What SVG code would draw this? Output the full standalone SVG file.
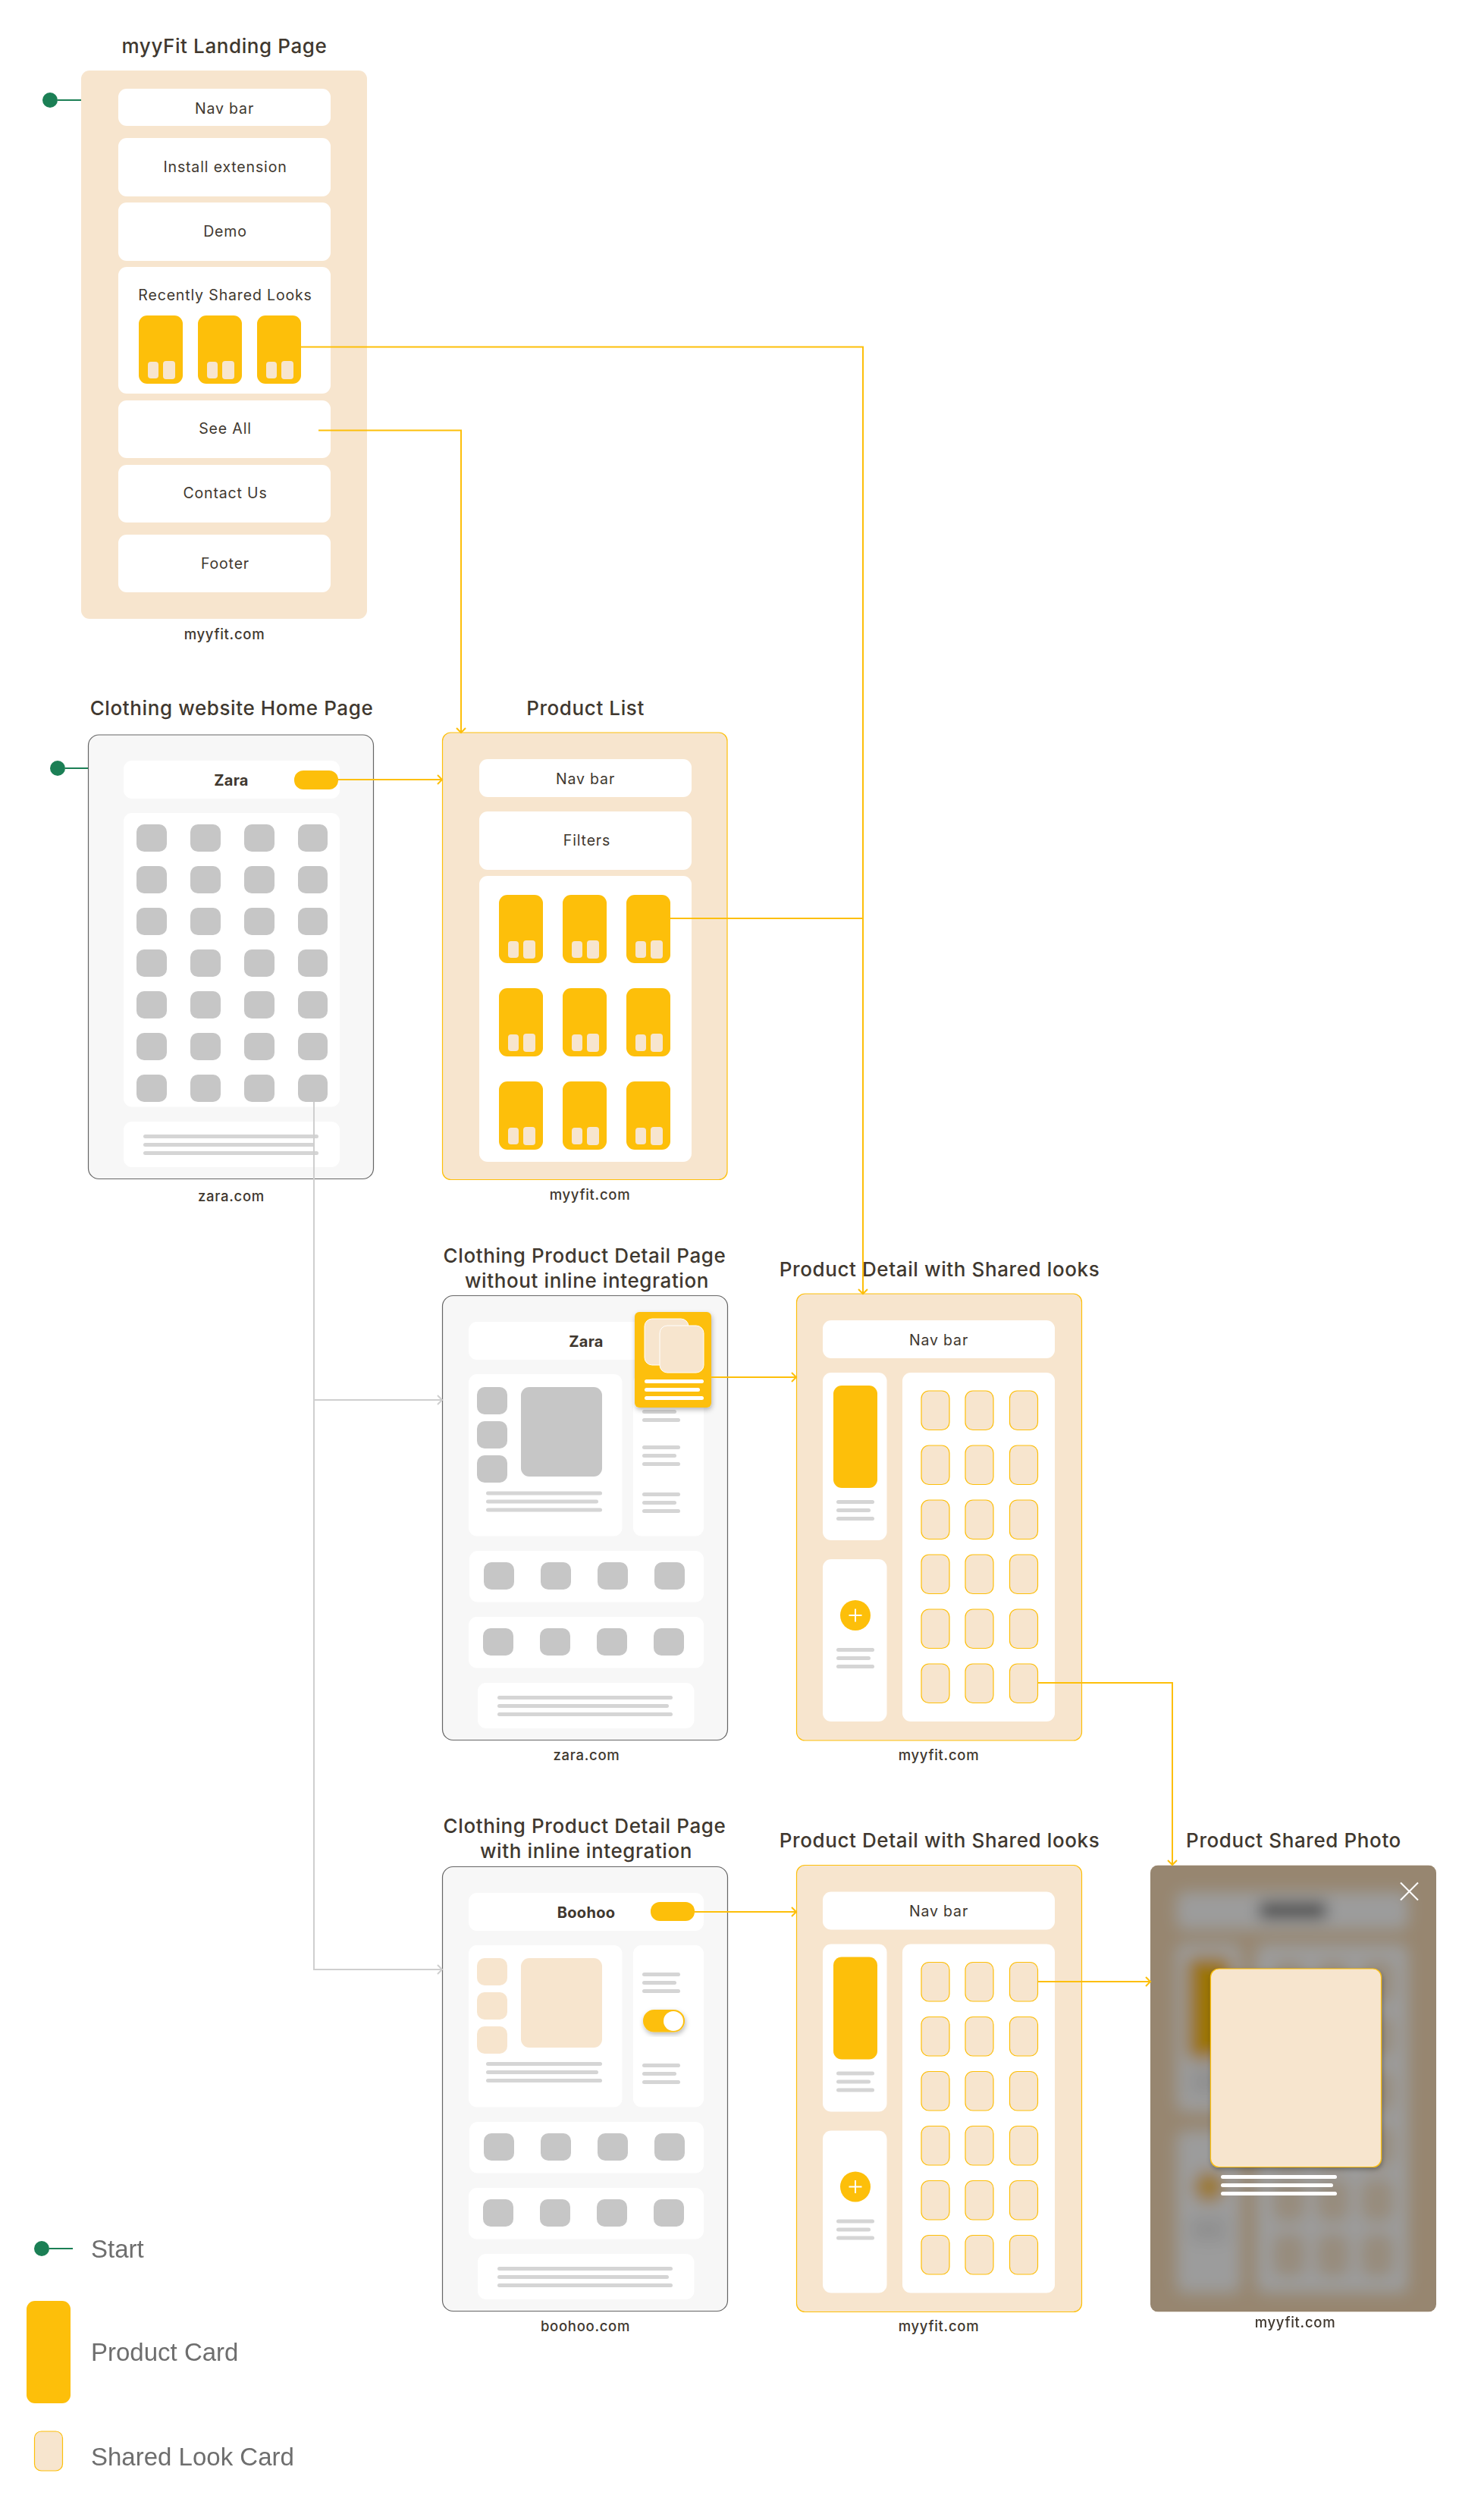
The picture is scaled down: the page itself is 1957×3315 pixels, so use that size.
<svg xmlns="http://www.w3.org/2000/svg" width="1957" height="3315" viewBox="0 0 1957 3315">
<style>
text{font-family:Inter,"Noto Sans",sans-serif;fill:#40382f;text-anchor:middle}
.t{font-size:26px;font-weight:500;letter-spacing:.6px}
.b{font-size:19.5px;letter-spacing:.85px}
.u{font-size:18.5px;font-weight:500;letter-spacing:.7px}
.s{font-size:20px;font-weight:700;letter-spacing:.3px}
.lg{font-family:"Liberation Sans",Arial,sans-serif;font-size:33px;fill:#6e6e6e;text-anchor:start}
.w{fill:#fff}
.p{fill:#f7e5ce}
.ps{fill:#f7e5ce;stroke:#fdbf0a;stroke-width:1.2}
.h{fill:#f7f7f7;stroke:#666;stroke-width:1.2}
.y{fill:#fdbf0a}
.g{fill:#c6c6c6}
.l{fill:#d5d5d5}
.cy{fill:none;stroke:#fdbf0a;stroke-width:2}
.cg{fill:none;stroke:#cfcfcf;stroke-width:2}
.st{fill:none;stroke:#1b7f55;stroke-width:2}
.sd{fill:#1b7f55}
</style>
<defs>
<marker id="ay" markerUnits="userSpaceOnUse" markerWidth="12" markerHeight="16" refX="8" refY="8" orient="auto"><path d="M2,2 L8,8 L2,14" fill="none" stroke="#fdbf0a" stroke-width="2"/></marker>
<marker id="ag" markerUnits="userSpaceOnUse" markerWidth="12" markerHeight="16" refX="8" refY="8" orient="auto"><path d="M2,2 L8,8 L2,14" fill="none" stroke="#cfcfcf" stroke-width="2"/></marker>
<filter id="shadow" x="-20%" y="-20%" width="140%" height="140%"><feDropShadow dx="1" dy="3" stdDeviation="3" flood-color="#000" flood-opacity=".28"/></filter>
<filter id="blur" x="-10%" y="-10%" width="120%" height="120%"><feGaussianBlur stdDeviation="10"/></filter>
<clipPath id="modalClip"><rect x="1517" y="2459.5" width="377" height="589" rx="10"/></clipPath>
<g id="pc"><rect width="58" height="90" rx="11" class="y"/><rect x="12" y="61" width="14" height="22" rx="4" class="p"/><rect x="32" y="60" width="16" height="24" rx="4" class="p"/></g>
<rect id="sc" width="37" height="51.5" rx="10" class="ps"/>
<g id="three"><rect width="50" height="5" rx="2.5" class="l"/><rect y="11" width="45" height="5" rx="2.5" class="l"/><rect y="22" width="50" height="5" rx="2.5" class="l"/></g>
<g id="cards">
<use href="#sc" x="1215" y="1834"/><use href="#sc" x="1273" y="1834"/><use href="#sc" x="1331.5" y="1834"/>
<use href="#sc" x="1215" y="1906"/><use href="#sc" x="1273" y="1906"/><use href="#sc" x="1331.5" y="1906"/>
<use href="#sc" x="1215" y="1978"/><use href="#sc" x="1273" y="1978"/><use href="#sc" x="1331.5" y="1978"/>
<use href="#sc" x="1215" y="2050"/><use href="#sc" x="1273" y="2050"/><use href="#sc" x="1331.5" y="2050"/>
<use href="#sc" x="1215" y="2122"/><use href="#sc" x="1273" y="2122"/><use href="#sc" x="1331.5" y="2122"/>
<use href="#sc" x="1215" y="2194"/><use href="#sc" x="1273" y="2194"/><use href="#sc" x="1331.5" y="2194"/>
</g>
<g id="detailBody">
<rect x="1085" y="1741" width="306" height="50" rx="11" class="w"/>
<rect x="1085" y="1810" width="84.5" height="221" rx="11" class="w"/>
<rect x="1099" y="1827" width="58" height="135" rx="11" class="y"/>
<use href="#three" x="1103" y="1978"/>
<rect x="1085" y="2056" width="84.5" height="214" rx="11" class="w"/>
<circle cx="1128" cy="2130" r="20" class="y"/>
<path d="M1128,2121.5V2138.5M1119.5,2130H1136.5" stroke="#fff" stroke-width="2" fill="none"/>
<use href="#three" x="1103" y="2173"/>
<rect x="1190" y="1810" width="201" height="460" rx="11" class="w"/>
<use href="#cards"/>
</g>
<g id="fullLines"><rect width="231" height="5" rx="2.5" class="l"/><rect y="11" width="226" height="5" rx="2.5" class="l"/><rect y="22" width="231" height="5" rx="2.5" class="l"/></g>
<g id="row4"><rect width="40" height="36" rx="10" class="g"/><rect x="75" width="40" height="36" rx="10" class="g"/><rect x="150" width="40" height="36" rx="10" class="g"/><rect x="225" width="40" height="36" rx="10" class="g"/></g>
</defs>
<rect width="1957" height="3315" fill="#fff"/>

<g id="landing">
<text class="t" x="296" y="70">myyFit Landing Page</text>
<rect x="107" y="93" width="377" height="723" rx="11" class="p"/>
<rect x="156" y="117" width="280" height="49" rx="11" class="w"/>
<rect x="156" y="182" width="280" height="77" rx="11" class="w"/>
<rect x="156" y="267" width="280" height="77" rx="11" class="w"/>
<rect x="156" y="352" width="280" height="167" rx="11" class="w"/>
<rect x="156" y="528" width="280" height="76" rx="11" class="w"/>
<rect x="156" y="613" width="280" height="76" rx="11" class="w"/>
<rect x="156" y="705" width="280" height="76" rx="11" class="w"/>
<text class="b" x="296" y="149.5">Nav bar</text>
<text class="b" x="297" y="226.5">Install extension</text>
<text class="b" x="297" y="311.5">Demo</text>
<text class="b" x="297" y="396">Recently Shared Looks</text>
<text class="b" x="297" y="572">See All</text>
<text class="b" x="297" y="657">Contact Us</text>
<text class="b" x="297" y="749.5">Footer</text>
<use href="#pc" x="183" y="416"/><use href="#pc" x="261" y="416"/><use href="#pc" x="339" y="416"/>
<text class="u" x="296" y="842.5">myyfit.com</text>
</g>

<g id="home">
<text class="t" x="305.5" y="943">Clothing website Home Page</text>
<rect x="116.5" y="969" width="376" height="585.5" rx="14" class="h"/>
<rect x="163" y="1003" width="285" height="50" rx="11" class="w"/>
<text class="s" x="305" y="1036">Zara</text>
<rect x="388" y="1016" width="58" height="25" rx="12" class="y"/>
<rect x="163" y="1072" width="285" height="387.5" rx="11" class="w"/>
<rect x="163" y="1479" width="285" height="60" rx="11" class="w"/>
<g class="g">
<rect x="180" y="1087" width="40" height="36" rx="10"/><rect x="251" y="1087" width="40" height="36" rx="10"/><rect x="322" y="1087" width="40" height="36" rx="10"/><rect x="393" y="1087" width="39" height="36" rx="10"/>
<rect x="180" y="1142" width="40" height="36" rx="10"/><rect x="251" y="1142" width="40" height="36" rx="10"/><rect x="322" y="1142" width="40" height="36" rx="10"/><rect x="393" y="1142" width="39" height="36" rx="10"/>
<rect x="180" y="1197" width="40" height="36" rx="10"/><rect x="251" y="1197" width="40" height="36" rx="10"/><rect x="322" y="1197" width="40" height="36" rx="10"/><rect x="393" y="1197" width="39" height="36" rx="10"/>
<rect x="180" y="1252" width="40" height="36" rx="10"/><rect x="251" y="1252" width="40" height="36" rx="10"/><rect x="322" y="1252" width="40" height="36" rx="10"/><rect x="393" y="1252" width="39" height="36" rx="10"/>
<rect x="180" y="1307" width="40" height="36" rx="10"/><rect x="251" y="1307" width="40" height="36" rx="10"/><rect x="322" y="1307" width="40" height="36" rx="10"/><rect x="393" y="1307" width="39" height="36" rx="10"/>
<rect x="180" y="1362" width="40" height="36" rx="10"/><rect x="251" y="1362" width="40" height="36" rx="10"/><rect x="322" y="1362" width="40" height="36" rx="10"/><rect x="393" y="1362" width="39" height="36" rx="10"/>
<rect x="180" y="1417" width="40" height="36" rx="10"/><rect x="251" y="1417" width="40" height="36" rx="10"/><rect x="322" y="1417" width="40" height="36" rx="10"/><rect x="393" y="1417" width="39" height="36" rx="10"/>
</g>
<use href="#fullLines" x="189" y="1496"/>
<text class="u" x="305" y="1583.5">zara.com</text>
</g>

<g id="productList">
<text class="t" x="772" y="943">Product List</text>
<rect x="583.5" y="966" width="375.5" height="589.5" rx="11" class="ps"/>
<rect x="632" y="1001" width="280" height="50" rx="11" class="w"/>
<text class="b" x="772" y="1034">Nav bar</text>
<rect x="632" y="1070" width="280" height="77" rx="11" class="w"/>
<text class="b" x="774" y="1115">Filters</text>
<rect x="632" y="1155" width="280" height="377" rx="11" class="w"/>
<use href="#pc" x="658" y="1180"/><use href="#pc" x="742" y="1180"/><use href="#pc" x="826" y="1180"/>
<use href="#pc" x="658" y="1303"/><use href="#pc" x="742" y="1303"/><use href="#pc" x="826" y="1303"/>
<use href="#pc" x="658" y="1426"/><use href="#pc" x="742" y="1426"/><use href="#pc" x="826" y="1426"/>
<text class="u" x="778" y="1581.5">myyfit.com</text>
</g>

<g id="detailNoInline">
<text class="t" x="771" y="1665">Clothing Product Detail Page</text>
<text class="t" x="774" y="1698">without inline integration</text>
<rect x="583.5" y="1708.5" width="376" height="586" rx="14" class="h"/>
<rect x="618" y="1743" width="310" height="50" rx="11" class="w"/>
<text class="s" x="773" y="1776">Zara</text>
<rect x="618" y="1812" width="202.5" height="213.5" rx="11" class="w"/>
<rect x="835" y="1812" width="93" height="213.5" rx="11" class="w"/>
<rect x="629" y="1829" width="40" height="36" rx="10" class="g"/><rect x="629" y="1874" width="40" height="36" rx="10" class="g"/><rect x="629" y="1919" width="40" height="36" rx="10" class="g"/>
<rect x="687" y="1829" width="107" height="118" rx="11" class="g"/>
<rect x="641" y="1966.5" width="153" height="5" rx="2.5" class="l"/><rect x="641" y="1977.5" width="148" height="5" rx="2.5" class="l"/><rect x="641" y="1988.5" width="153" height="5" rx="2.5" class="l"/>
<use href="#three" x="847" y="1848"/><use href="#three" x="847" y="1906"/><use href="#three" x="847" y="1968"/>
<rect x="619" y="2045" width="309" height="67.5" rx="11" class="w"/>
<use href="#row4" x="638" y="2060"/>
<rect x="618" y="2132" width="310" height="67.5" rx="11" class="w"/>
<use href="#row4" x="637" y="2147"/>
<rect x="630" y="2219" width="285.5" height="60" rx="11" class="w"/>
<use href="#fullLines" x="656" y="2236"/>
<rect x="837" y="1730" width="101" height="126" rx="6" class="y" filter="url(#shadow)"/>
<rect x="850" y="1739" width="58" height="61" rx="10" class="p" stroke="#fff"/>
<rect x="870" y="1748" width="58" height="62" rx="10" class="p" stroke="#fff"/>
<rect x="850" y="1819" width="78" height="5" rx="2.5" class="w"/><rect x="850" y="1830" width="73" height="5" rx="2.5" class="w"/><rect x="850" y="1841" width="78" height="5" rx="2.5" class="w"/>
<text class="u" x="773.5" y="2320.5">zara.com</text>
</g>

<g id="detailShared1">
<text class="t" x="1239" y="1683">Product Detail with Shared looks</text>
<rect x="1050.5" y="1706" width="376" height="589" rx="11" class="ps"/>
<use href="#detailBody"/>
<text class="b" x="1238" y="1774">Nav bar</text>
<text class="u" x="1238" y="2320.5">myyfit.com</text>
</g>

<g id="detailInline">
<text class="t" x="771" y="2416.5">Clothing Product Detail Page</text>
<text class="t" x="773" y="2450">with inline integration</text>
<rect x="583.5" y="2461.5" width="376" height="586" rx="14" class="h"/>
<rect x="618" y="2496" width="310" height="50" rx="11" class="w"/>
<text class="s" x="773" y="2529">Boohoo</text>
<rect x="858" y="2508" width="58" height="25" rx="12" class="y"/>
<rect x="618" y="2565" width="202.5" height="213.5" rx="11" class="w"/>
<rect x="835" y="2565" width="93" height="213.5" rx="11" class="w"/>
<rect x="629" y="2582" width="40" height="36" rx="10" class="p"/><rect x="629" y="2627" width="40" height="36" rx="10" class="p"/><rect x="629" y="2672" width="40" height="36" rx="10" class="p"/>
<rect x="687" y="2582" width="107" height="118" rx="11" class="p"/>
<rect x="641" y="2719" width="153" height="5" rx="2.5" class="l"/><rect x="641" y="2730" width="148" height="5" rx="2.5" class="l"/><rect x="641" y="2741" width="153" height="5" rx="2.5" class="l"/>
<use href="#three" x="847" y="2601"/><use href="#three" x="847" y="2721"/>
<rect x="848" y="2650" width="55" height="29.5" rx="14.7" class="y" filter="url(#shadow)"/>
<circle cx="888" cy="2665" r="13" fill="#fff"/>
<rect x="619" y="2798" width="309" height="67.5" rx="11" class="w"/>
<use href="#row4" x="638" y="2813"/>
<rect x="618" y="2885" width="310" height="67.5" rx="11" class="w"/>
<use href="#row4" x="637" y="2900"/>
<rect x="630" y="2972" width="285.5" height="60" rx="11" class="w"/>
<use href="#fullLines" x="656" y="2989"/>
<text class="u" x="772" y="3073.5">boohoo.com</text>
</g>

<g id="detailShared2">
<text class="t" x="1239" y="2436">Product Detail with Shared looks</text>
<rect x="1050.5" y="2459.5" width="376" height="589" rx="11" class="ps"/>
<use href="#detailBody" y="753.5"/>
<text class="b" x="1238" y="2527">Nav bar</text>
<text class="u" x="1238" y="3073.5">myyfit.com</text>
</g>

<g id="sharedPhoto">
<text class="t" x="1706" y="2436">Product Shared Photo</text>
<g clip-path="url(#modalClip)">
<rect x="1517" y="2459.5" width="377" height="589" fill="#f7dcb8"/>
<g filter="url(#blur)">
<use href="#detailBody" x="466.5" y="753.5"/>
<rect x="1660" y="2508" width="90" height="22" fill="#777" rx="6"/>
</g>
<rect x="1517" y="2459.5" width="377" height="589" fill="#000" fill-opacity=".39"/>
</g>
<path d="M1847,2482.5L1870,2505.5M1870,2482.5L1847,2505.5" stroke="#fff" stroke-width="2" fill="none"/>
<rect x="1596.5" y="2596" width="225" height="261.5" rx="11" class="ps" filter="url(#shadow)"/>
<rect x="1610" y="2868" width="153" height="5" rx="2.5" class="w"/><rect x="1610" y="2879" width="148" height="5" rx="2.5" class="w"/><rect x="1610" y="2890" width="153" height="5" rx="2.5" class="w"/>
<text class="u" x="1708" y="3068.5">myyfit.com</text>
</g>

<g id="legendStart">
<circle cx="55" cy="2965" r="10" class="sd"/>
<path d="M65,2965H96" class="st"/>
<text class="lg" x="120" y="2977">Start</text>
</g>
<g id="legendProduct">
<rect x="35" y="3034" width="58" height="135" rx="11" class="y"/>
<text class="lg" x="120" y="3113">Product Card</text>
</g>
<g id="legendShared">
<rect x="45.5" y="3206" width="37" height="52" rx="9" class="ps"/>
<text class="lg" x="120" y="3251">Shared Look Card</text>
</g>
<g id="start1"><circle cx="66" cy="132" r="10" class="sd"/></g>
<g id="start2"><circle cx="76" cy="1013" r="10" class="sd"/></g>

<g id="connectors">
<path d="M76,132H107" class="st"/>
<path d="M86,1013H116" class="st"/>
<path d="M397,457.5H1138V1706" class="cy" marker-end="url(#ay)"/>
<path d="M420,567.5H608V966" class="cy" marker-end="url(#ay)"/>
<path d="M446,1028H583" class="cy" marker-end="url(#ay)"/>
<path d="M884,1211H1138" class="cy"/>
<path d="M938,1816H1050" class="cy" marker-end="url(#ay)"/>
<path d="M1368.5,2219H1546V2459" class="cy" marker-end="url(#ay)"/>
<path d="M916,2521H1050" class="cy" marker-end="url(#ay)"/>
<path d="M1368.5,2613H1517" class="cy" marker-end="url(#ay)"/>
<path d="M414,1453V2597H583" class="cg" marker-end="url(#ag)"/>
<path d="M414,1846H583" class="cg" marker-end="url(#ag)"/>
</g>
</svg>
